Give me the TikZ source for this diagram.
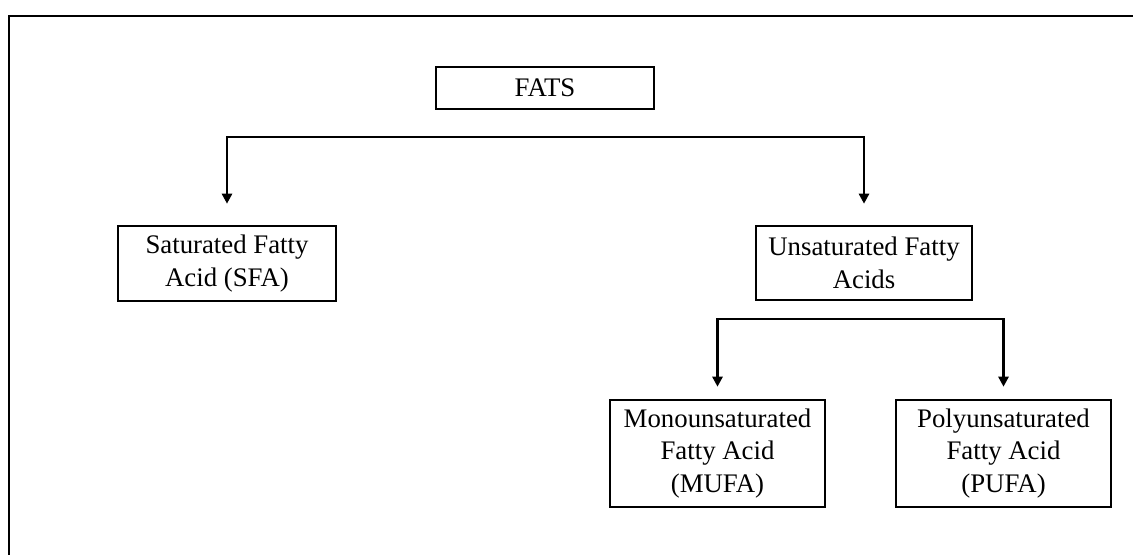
\documentclass[tikz,border=0pt]{standalone}
\usepackage{fontspec}
\setmainfont{Liberation Serif}
\usetikzlibrary{arrows.meta}
\begin{document}
\begin{tikzpicture}
[x=0.5pt,y=-0.5pt,%
  every node/.style={shape=rectangle,draw,line width=1.3pt,align=center,inner sep=2pt,
    font=\fontsize{13.4}{16.3}\selectfont},%
  arr/.style={-{Triangle[length=5pt,width=5pt]},line width=1.4pt}]
\clip (0,0) rectangle (1133,554);
\draw[line width=1.4pt] (9,16) rectangle (1150,570);
\node[minimum width=109pt,minimum height=21pt] (fats) at (545,88) {FATS};
\node[minimum width=109pt,minimum height=37.5pt] (sfa) at (227,263.5) {Saturated Fatty\\Acid (SFA)};
\node[minimum width=108pt,minimum height=37pt] (unsat) at (864,263) {Unsaturated Fatty\\Acids};
\node[minimum width=107.5pt,minimum height=53.5pt] (mufa) at (717.5,453.5) {Monounsaturated\\Fatty Acid\\(MUFA)};
\node[minimum width=107.5pt,minimum height=53.5pt] (pufa) at (1003.5,453.5) {Polyunsaturated\\Fatty Acid\\(PUFA)};
\coordinate (split1) at (545,137);
\coordinate (split2) at (860,319);
\draw[arr,shorten >=10.5pt] (split1) -| (sfa);
\draw[arr,shorten >=10.5pt] (split1) -| (unsat);
\draw[arr,shorten >=6pt] (split2) -| (mufa);
\draw[arr,shorten >=6pt] (split2) -| (pufa);
\end{tikzpicture}
\end{document}
